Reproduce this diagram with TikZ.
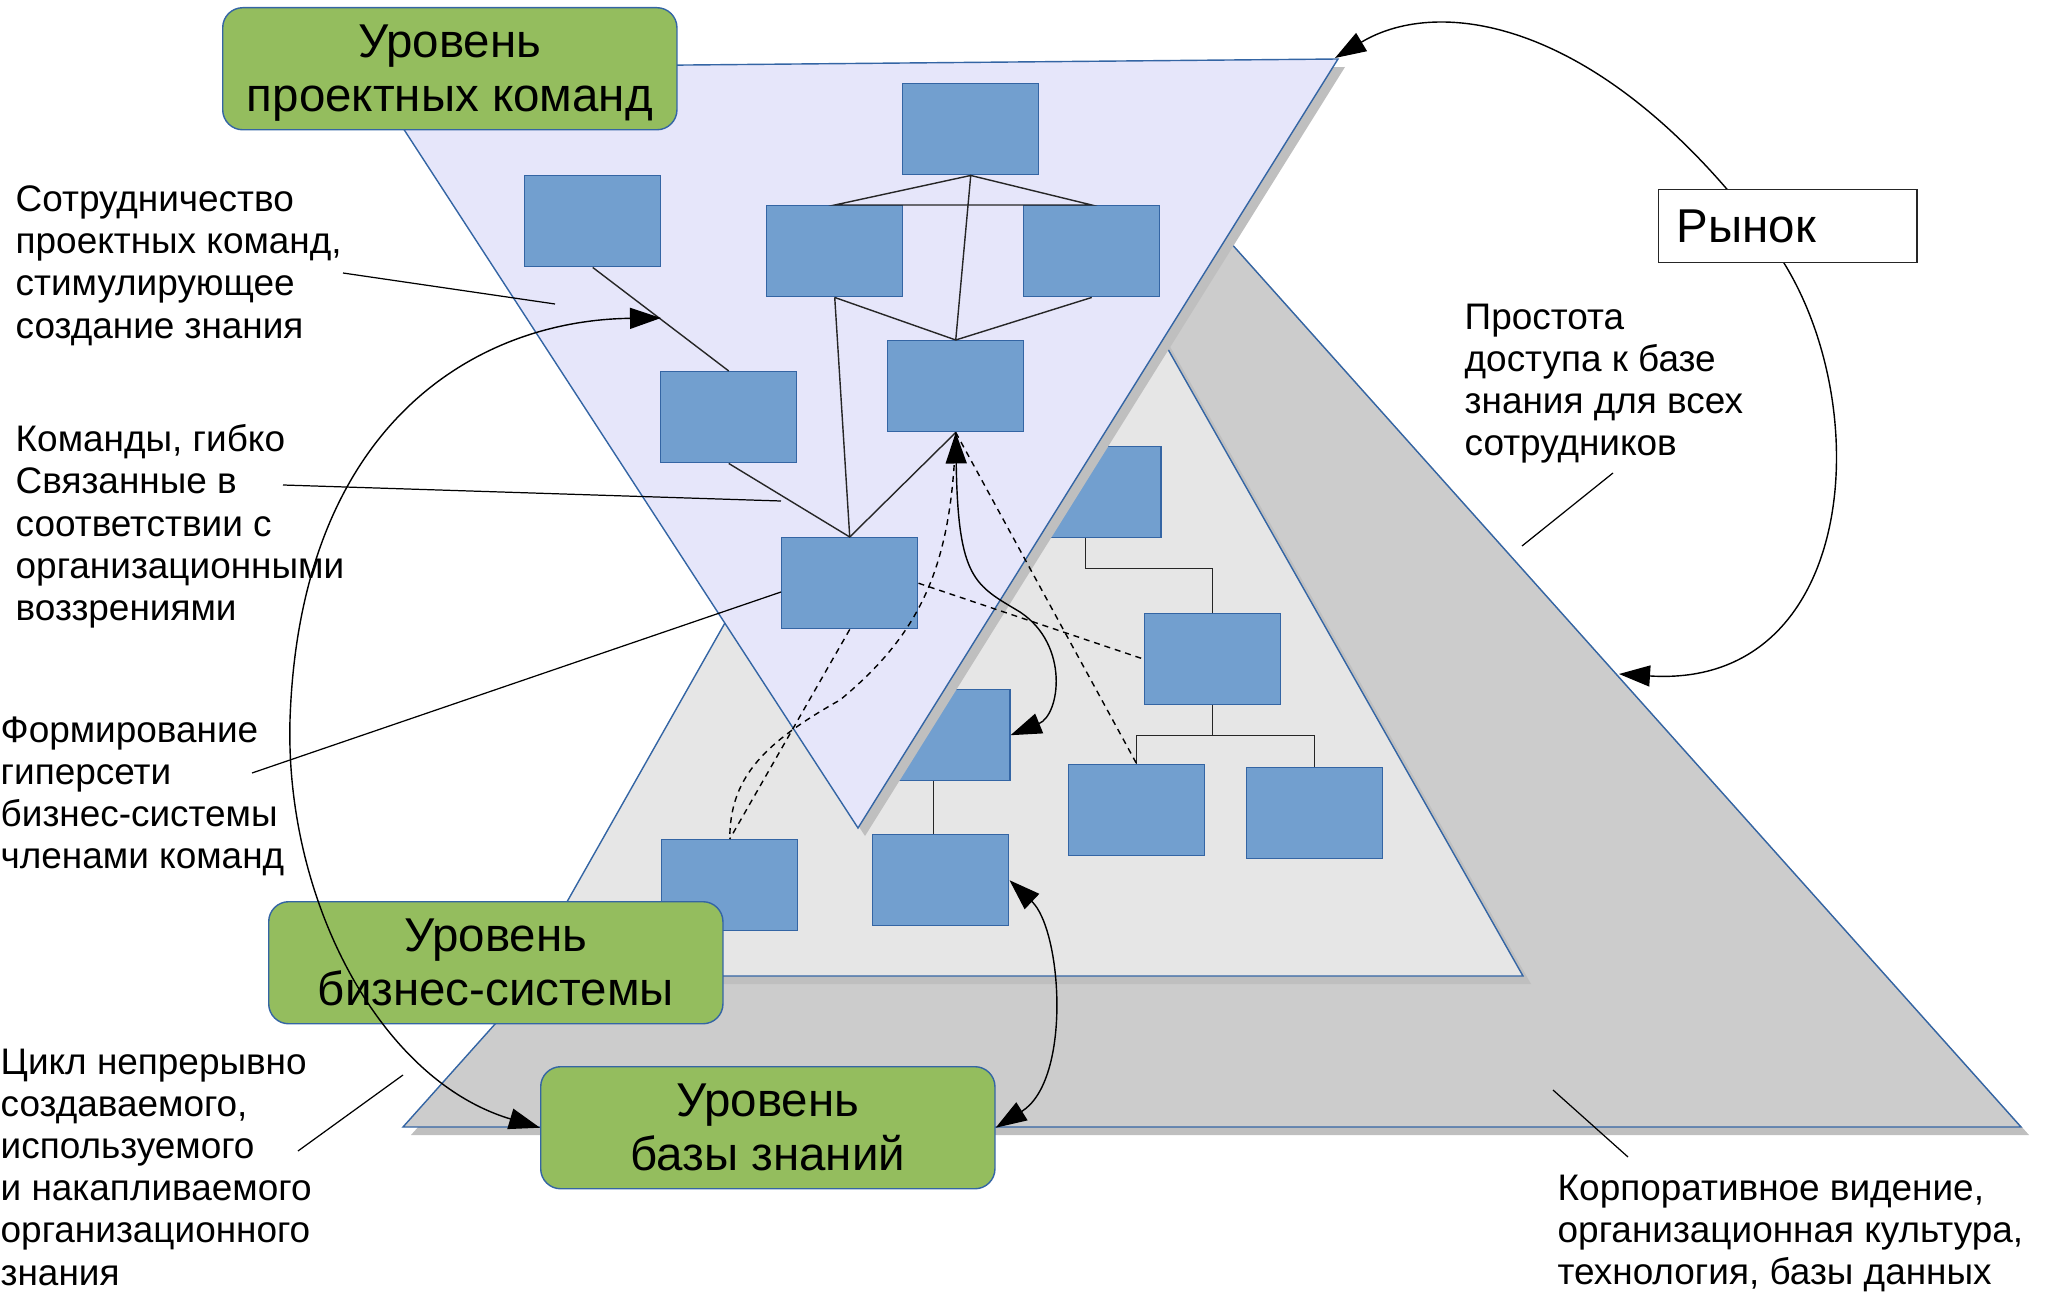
\documentclass[tikz,border=0pt]{standalone}
\usepackage{fontspec}
\setmainfont{Liberation Sans}
\usetikzlibrary{arrows.meta,calc}
\definecolor{unitfill}{RGB}{114,159,207}
\definecolor{unitline}{RGB}{52,101,164}
\definecolor{lvlgreen}{RGB}{148,189,94}
\definecolor{teamfill}{RGB}{230,230,250}
\definecolor{bizfill}{RGB}{230,230,230}
\definecolor{basefill}{RGB}{204,204,204}
\definecolor{shadowgray}{RGB}{191,191,191}
\newcommand\lvtop{\rule{0pt}{12pt}}
\newcommand\lvbot{\rule[-3pt]{0pt}{3pt}}
\begin{document}
\begin{tikzpicture}[x=0.01cm,y=-0.01cm,
  unit/.style={draw=unitline,fill=unitfill,line width=0.4pt,anchor=north west,
    minimum width=1.36cm,minimum height=0.91cm,inner sep=0pt},
  lvlbox/.style={draw=unitline,fill=lvlgreen,rounded corners=0.2cm,line width=0.4pt,anchor=north west,
    minimum width=4.54cm,minimum height=1.22cm,inner sep=0pt,align=center,
    font=\fontsize{13.5}{15.2}\selectfont},
  lbl/.style={align=left,anchor=north west,inner sep=0pt,font=\fontsize{10.5}{12}\selectfont},
  tier/.style={draw=unitline,line width=0.4pt},
  backdrop/.style={fill=shadowgray},
  link/.style={line width=0.4pt,draw=black!85},
  soft/.style={line width=0.4pt,dash pattern=on 1.7pt off 1.4pt},
  flow/.style={line width=0.4pt,{Triangle[length=0.31cm,width=0.21cm]}-{Triangle[length=0.31cm,width=0.21cm]}},
  pointer/.style={line width=0.35pt}]
\useasboundingbox (0,0) rectangle (2050,1294);

\path[backdrop] (411,1135) -- (2029,1135) -- (1220,230) -- cycle;
\path[fill=basefill,tier] (403,1127) -- (2021,1127) -- (1212,222) -- cycle;
\path[backdrop] (533,984) -- (1531,984) -- (1032,103) -- cycle;
\path[fill=bizfill,tier] (525,976) -- (1523,976) -- (1024,95) -- cycle;

\foreach \n/\px/\py in {u9/1144/613,u11/872/834,u12/661/839,u13/1068/764,u14/1246/767}
  \node[unit] (\n) at (\px,\py) {};
\node[unit,minimum width=1.51cm] (u8) at (1009,446) {};
\node[unit,minimum width=1.52cm] (u10) at (857,689) {};
\draw[link] (u8.south) -- ++(0,30) -| (u9.north);
\draw[link] (u9.south) -- ++(0,30) -| (u13.north);
\draw[link] (u9.south) -- ++(0,30) -| (u14.north);
\draw[link] (u10.south) -- (u10.south |- u11.north);

\path[backdrop] (371,76) -- (1345,67) -- (865,836) -- cycle;
\path[fill=teamfill,tier] (364,68) -- (1338,59) -- (858,828) -- cycle;

\foreach \n/\px/\py in {u1/902/83,u2/766/205,u3/1023/205,u4/524/175,u5/887/340,u6/660/371,u7/781/537}
  \node[unit] (\n) at (\px,\py) {};
\draw[link] (u1.south) -- (u2.north) -- (u3.north) -- (u1.south) -- (u5.north);
\draw[link] (u2.south) -- (u5.north) -- (u3.south);
\draw[link] (u2.south) -- (u7.north);
\draw[link] (u5.south) -- (u7.north) -- (u6.south);
\draw[link] (u4.south) -- (u6.north);

\draw[soft] (u7.south) -- (u12.north);
\draw[soft] (u5.south) .. controls (952,560) and (925,630) .. (840,700)
  .. controls (760,745) and (730,780) .. (u12.north);
\draw[soft] (u7.east) -- (u9.west);
\draw[soft] (u5.south) -- (u13.north);

\draw[flow] (u5.south) .. controls (958,580) and (975,585) .. (1020,612)
  .. controls (1070,645) and (1060,715) .. (u10.east);

\node[lvlbox] (g1) at (222,7) {\lvtop Уровень\\проектных команд\lvbot};
\node[lvlbox] (g2) at (268,901) {\lvtop Уровень\\бизнес-системы\lvbot};
\node[lvlbox] (g3) at (540,1066) {\lvtop Уровень\\базы знаний\lvbot};

\draw[flow] (u11.east) .. controls (1062,930) and (1072,1080) .. (g3.east);
\coordinate (cycTip) at (661,318);
\draw[flow] (g3.west) .. controls (380,1080) and (285,900) .. (290,720)
  .. controls (300,420) and (480,320) .. (cycTip);

\coordinate (mkTop) at (1335,58);
\coordinate (mkEnd) at (1619,674);
\draw[flow] (mkTop) .. controls (1440,-5) and (1600,20) .. (1760,230)
  .. controls (1880,370) and (1870,690) .. (mkEnd);
\node[draw=black!85,fill=white,line width=0.4pt,anchor=north west,minimum height=0.73cm,
  text width=2.22cm,inner xsep=0.18cm,align=left,font=\fontsize{13.5}{15.2}\selectfont] (mk) at (1658,189) {Рынок};

\node[lbl] (lCoop) at (15,185) {Сотрудничество\\проектных команд,\\стимулирующее\\создание знания};
\node[lbl] (lTeams) at (15,424) {Команды, гибко\\Связанные в\\соответствии с\\организационными\\воззрениями};
\node[lbl] (lNet) at (0,716) {Формирование\\гиперсети\\бизнес-системы\\членами команд};
\node[lbl] (lCycle) at (0,1048) {Цикл непрерывно\\создаваемого,\\используемого\\и накапливаемого\\организационного\\знания};
\node[lbl] (lAccess) at (1464,303) {Простота\\доступа к базе\\знания для всех\\сотрудников};
\node[lbl] (lCorp) at (1557,1174) {Корпоративное видение,\\организационная культура,\\технология, базы данных};

\coordinate (p1a) at (343,273); \coordinate (p1b) at (555,304);
\coordinate (p2a) at (283,485); \coordinate (p2b) at (781,501);
\coordinate (p3a) at (252,773); \coordinate (p3b) at (781,592);
\coordinate (p4a) at (298,1151); \coordinate (p4b) at (403,1075);
\coordinate (p5a) at (1613,473); \coordinate (p5b) at (1522,546);
\coordinate (p6a) at (1553,1090); \coordinate (p6b) at (1628,1157);
\draw[pointer] (p1a) -- (p1b);
\draw[pointer] (p2a) -- (p2b);
\draw[pointer] (p3a) -- (p3b);
\draw[pointer] (p4a) -- (p4b);
\draw[pointer] (p5a) -- (p5b);
\draw[pointer] (p6a) -- (p6b);
\end{tikzpicture}
\end{document}
